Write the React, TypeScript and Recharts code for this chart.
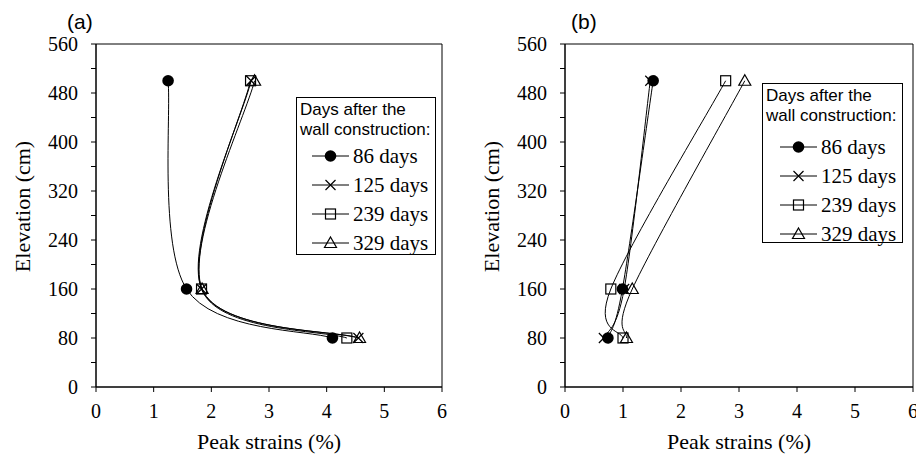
import { ReferenceArea, Scatter, ScatterChart, XAxis, YAxis } from "recharts";

// elevations of the gauges (cm), shared by every series
const ELEVATIONS = [500, 160, 80];

const SERIES_NAMES = ["86 days", "125 days", "239 days", "329 days"];
const MARKERS = ["dot", "cross", "square", "triangle"];

// panel (a) peak strains (%)
const A_86 = [1.25, 1.57, 4.1];
const A_125 = [2.69, 1.83, 4.55];
const A_239 = [2.68, 1.83, 4.35];
const A_329 = [2.75, 1.84, 4.57];

// panel (b) peak strains (%)
const B_86 = [1.52, 0.99, 0.74];
const B_125 = [1.47, 1.02, 0.67];
const B_239 = [2.77, 0.79, 1.0];
const B_329 = [3.1, 1.16, 1.06];

const X_TICKS = [0, 1, 2, 3, 4, 5, 6];
const Y_TICKS = [0, 40, 80, 120, 160, 200, 240, 280, 320, 360, 400, 440, 480, 520, 560];

const SERIF = "Liberation Serif, Times New Roman, serif";
const SANS = "Liberation Sans, Arial, sans-serif";

// Excel-style smoothed line (Catmull-Rom through the points)
const excelSmooth = (context: any) => {
  let pts: number[][] = [];
  return {
    areaStart() {},
    areaEnd() {},
    lineStart() {
      pts = [];
    },
    point(x: number, y: number) {
      pts.push([x, y]);
    },
    lineEnd() {
      if (!pts.length) return;
      context.moveTo(pts[0][0], pts[0][1]);
      for (let i = 0; i < pts.length - 1; i++) {
        const p0 = pts[Math.max(i - 1, 0)];
        const p1 = pts[i];
        const p2 = pts[i + 1];
        const p3 = pts[Math.min(i + 2, pts.length - 1)];
        context.bezierCurveTo(
          p1[0] + (p2[0] - p0[0]) / 6,
          p1[1] + (p2[1] - p0[1]) / 6,
          p2[0] - (p3[0] - p1[0]) / 6,
          p2[1] - (p3[1] - p1[1]) / 6,
          p2[0],
          p2[1]
        );
      }
    },
  };
};

const Marker = ({ kind, cx, cy }: { kind: string; cx: number; cy: number }) => {
  if (kind === "dot") return <circle cx={cx} cy={cy} r={5.8} fill="#000" />;
  if (kind === "cross")
    return (
      <path
        d={`M${cx - 5},${cy - 5}L${cx + 5},${cy + 5}M${cx - 5},${cy + 5}L${cx + 5},${cy - 5}`}
        stroke="#000"
        strokeWidth={1.2}
      />
    );
  if (kind === "square")
    return (
      <rect x={cx - 5} y={cy - 5} width={10} height={10} fill="none" stroke="#000" strokeWidth={1.2} />
    );
  return (
    <path
      d={`M${cx},${cy - 6}L${cx + 6},${cy + 4.5}L${cx - 6},${cy + 4.5}Z`}
      fill="none"
      stroke="#000"
      strokeWidth={1.2}
    />
  );
};

type PanelProps = {
  tag: string;
  left: number;
  width: number;
  marginLeft: number;
  marginRight: number;
  series: number[][];
  legend: { left: number; top: number; width: number; height: number; rowsTop: number; symLeft: number };
  tagLeft: number;
};

const tickStyle = { fill: "#000", fontSize: 20, fontFamily: SERIF, style: { fontFamily: SERIF } };

const Panel = ({ tag, left, width, marginLeft, marginRight, series, legend, tagLeft }: PanelProps) => {
  return (
    <div style={{ position: "absolute", left, top: 0, width, height: 455, fontFamily: SERIF }}>
      <div
        style={{
          position: "absolute",
          left: tagLeft,
          top: 10,
          fontFamily: SANS,
          fontSize: 21,
          lineHeight: "24px",
        }}
      >
        {tag}
      </div>
      <ScatterChart
        width={width}
        height={455}
        margin={{ top: 44, right: marginRight, bottom: 37, left: marginLeft }}
        style={{ fontFamily: SERIF }}
      >
        <XAxis
          type="number"
          dataKey="strain"
          domain={[0, 6]}
          ticks={X_TICKS}
          interval={0}
          height={31}
          tickSize={5}
          tickMargin={12}
          axisLine={{ stroke: "#000" }}
          tickLine={{ stroke: "#000" }}
          tick={tickStyle}
          label={{
            value: "Peak strains (%)",
            position: "bottom",
            offset: 15,
            fill: "#000",
            fontSize: 22,
            fontFamily: SERIF,
            style: { fontFamily: SERIF },
          }}
        />
        <YAxis
          type="number"
          dataKey="elev"
          domain={[0, 560]}
          ticks={Y_TICKS}
          interval={0}
          width={60}
          tickSize={5}
          tickMargin={13}
          tickFormatter={(v: number) => (v % 80 === 0 ? String(v) : "")}
          axisLine={{ stroke: "#000" }}
          tickLine={{ stroke: "#000" }}
          tick={tickStyle}
          label={{
            value: "Elevation (cm)",
            angle: -90,
            position: "insideLeft",
            offset: -14,
            dy: -9,
            fill: "#000",
            fontSize: 22,
            fontFamily: SERIF,
            style: { textAnchor: "middle", fontFamily: SERIF },
          }}
        />
        <ReferenceArea x1={0} x2={6} y1={0} y2={560} fill="none" stroke="#000" strokeWidth={1} />
        {series.map((vals, s) => (
          <Scatter
            key={SERIES_NAMES[s]}
            name={SERIES_NAMES[s]}
            data={ELEVATIONS.map((e, i) => ({ strain: vals[i], elev: e }))}
            line={{ stroke: "#000", strokeWidth: 1 }}
            lineJointType={excelSmooth as any}
            shape={(p: any) => <Marker kind={MARKERS[s]} cx={p.cx} cy={p.cy} />}
            isAnimationActive={false}
          />
        ))}
      </ScatterChart>
      <div
        style={{
          position: "absolute",
          left: legend.left,
          top: legend.top,
          width: legend.width,
          height: legend.height,
          border: "1px solid #000",
          boxSizing: "border-box",
          background: "#fff",
        }}
      >
        <div
          style={{
            position: "absolute",
            left: 3,
            top: 2,
            fontFamily: SANS,
            fontSize: 17,
            lineHeight: "20px",
            whiteSpace: "nowrap",
          }}
        >
          Days after the
          <br />
          wall construction:
        </div>
        {SERIES_NAMES.map((name, s) => (
          <div
            key={name}
            style={{
              position: "absolute",
              left: legend.symLeft,
              top: legend.rowsTop + s * 29 - 1,
              height: 29,
              display: "flex",
              alignItems: "center",
              whiteSpace: "nowrap",
            }}
          >
            <svg width={37} height={20} style={{ display: "block" }}>
              <line x1={0} x2={37} y1={10} y2={10} stroke="#000" strokeWidth={1} />
              <Marker kind={MARKERS[s]} cx={18.5} cy={10} />
            </svg>
            <span style={{ fontFamily: SERIF, fontSize: 21, marginLeft: 4, lineHeight: "24px" }}>{name}</span>
          </div>
        ))}
      </div>
    </div>
  );
};

export default function App() {
  return (
    <div
      style={{
        position: "absolute",
        left: 0,
        top: 0,
        width: 916,
        height: 455,
        overflow: "hidden",
        background: "#fff",
        fontFamily: SERIF,
      }}
    >
      <Panel
        tag="(a)"
        left={0}
        width={460}
        marginLeft={36}
        marginRight={18}
        series={[A_86, A_125, A_239, A_329]}
        legend={{ left: 296, top: 97, width: 140, height: 158, rowsTop: 44.5, symLeft: 15 }}
        tagLeft={67}
      />
      <Panel
        tag="(b)"
        left={470}
        width={446}
        marginLeft={35}
        marginRight={3}
        series={[B_86, B_125, B_239, B_329]}
        legend={{ left: 292, top: 83, width: 141, height: 160, rowsTop: 49, symLeft: 17 }}
        tagLeft={101}
      />
    </div>
  );
}
